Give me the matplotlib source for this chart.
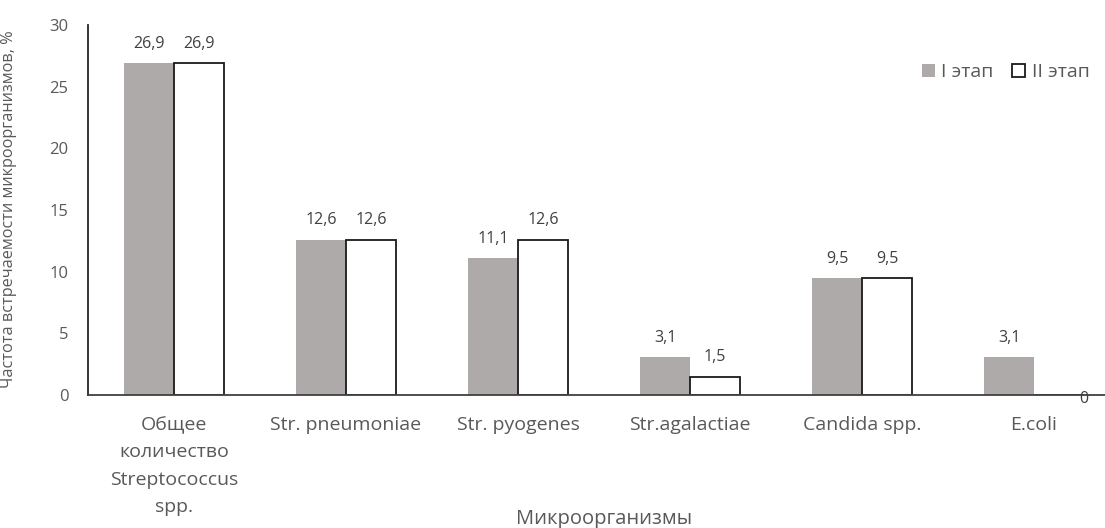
import matplotlib
matplotlib.use("Agg")
import matplotlib.pyplot as plt
import numpy as np

categories = ["Общее\nколичество\nStreptococcus\nspp.", "Str. pneumoniae", "Str. pyogenes",
              "Str.agalactiae", "Candida spp.", "E.coli"]
stage1 = [26.9, 12.6, 11.1, 3.1, 9.5, 3.1]
stage2 = [26.9, 12.6, 12.6, 1.5, 9.5, 0.0]
series_names = ["I этап", "II этап"]
y_ticks = [0, 5, 10, 15, 20, 25, 30]

plt.rcParams["font.family"] = ["Open Sans", "DejaVu Sans"]
W, H = 1105, 528
fig = plt.figure(figsize=(W / 100, H / 100), dpi=100)
ax = fig.add_axes([88 / W, 1 - 395 / H, (1120 - 88) / W, (395 - 25) / H])

x = np.arange(len(categories))
bw = 0.29
gray = "#AEAAA9"
text_c = "#404040"
tick_c = "#595959"

b1 = ax.bar(x - bw / 2, stage1, bw, color=gray, edgecolor="none", label=series_names[0])
b2 = ax.bar(x + bw / 2, stage2, bw, color="white", edgecolor="#1a1a1a", linewidth=1.3,
            label=series_names[1])

def fmt(v):
    return f"{v:.1f}".replace(".", ",") if v != 0 else "0"

for bars, vals in ((b1, stage1), (b2, stage2)):
    for r, v in zip(bars, vals):
        cx = r.get_x() + r.get_width() / 2
        if v == 0:
            ax.annotate(fmt(v), (r.get_x() + r.get_width(), 0), xytext=(0, -3),
                        textcoords="offset points", ha="center", va="center",
                        fontsize=11.5, color=text_c, annotation_clip=False)
        else:
            ax.annotate(fmt(v), (cx, v), xytext=(0, 8), textcoords="offset points",
                        ha="center", va="bottom", fontsize=11.5, color=text_c)

ax.set_xlim(-0.5, len(categories) - 0.5)
ax.set_ylim(0, 30)
ax.set_yticks(y_ticks)
ax.set_xticks(x)
ax.set_xticklabels(categories, fontsize=14, color=tick_c, linespacing=1.68)
ax.tick_params(axis="y", labelsize=12, colors=tick_c, length=0, pad=14)
ax.tick_params(axis="x", length=0, pad=15)
for s in ("top", "right"):
    ax.spines[s].set_visible(False)
ax.spines["left"].set_color("#262626")
ax.spines["bottom"].set_color("#404040")
ax.spines["left"].set_linewidth(1.3)
ax.spines["bottom"].set_linewidth(1.3)

ax.set_ylabel("Частота встречаемости микроорганизмов, %", fontsize=11.7, color=tick_c)
ax.yaxis.set_label_coords(-71 / (1120 - 88), (395 - 209) / (395 - 25))
ax.set_xlabel("Микроорганизмы", fontsize=14.5, color=tick_c, va="center")
ax.xaxis.set_label_coords(0.5, -(519 - 395) / (395 - 25))

leg = ax.legend(loc="center left", bbox_to_anchor=(922 / W, 1 - 72 / H),
                bbox_transform=fig.transFigure, ncol=2, frameon=False, fontsize=14,
                handlelength=0.65, handleheight=0.65, handletextpad=0.35, columnspacing=0.95,
                labelcolor=tick_c, borderaxespad=0, borderpad=0)

fig.savefig("out.png", dpi=100)
